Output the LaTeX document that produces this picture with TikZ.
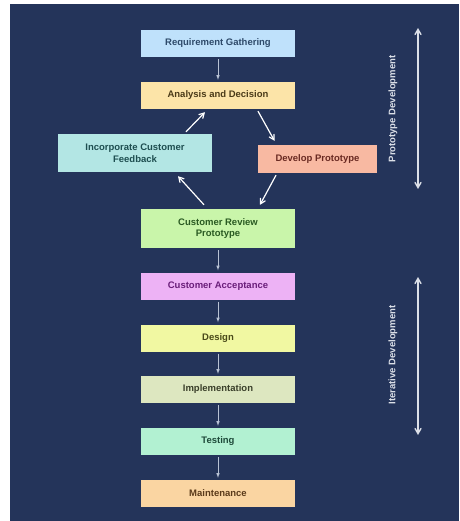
\documentclass[tikz,border=0pt]{standalone}
\usepackage{fontspec}
\setmainfont{Liberation Sans}
\usepackage{tikz}
\usetikzlibrary{arrows}

\definecolor{bgnavy}{HTML}{24345A}
\definecolor{reqfill}{HTML}{BFE1FB}\definecolor{reqtext}{HTML}{2E4A6A}
\definecolor{anafill}{HTML}{FCE4A8}\definecolor{anatext}{HTML}{4A3A18}
\definecolor{incfill}{HTML}{B3E6E4}\definecolor{inctext}{HTML}{1E4E50}
\definecolor{devfill}{HTML}{F8B9A2}\definecolor{devtext}{HTML}{6A2A22}
\definecolor{crpfill}{HTML}{C9F5AA}\definecolor{crptext}{HTML}{2A5A22}
\definecolor{accfill}{HTML}{EDB2F5}\definecolor{acctext}{HTML}{6A1E7A}
\definecolor{desfill}{HTML}{F1F8A2}\definecolor{destext}{HTML}{4A4A1A}
\definecolor{impfill}{HTML}{DDE7C0}\definecolor{imptext}{HTML}{3A3F2A}
\definecolor{tesfill}{HTML}{B2F1D2}\definecolor{testext}{HTML}{1E4A3A}
\definecolor{maifill}{HTML}{FAD5A2}\definecolor{maitext}{HTML}{5A3A1A}
\definecolor{sidegray}{HTML}{DCE0E8}
\definecolor{flowgray}{HTML}{B8C2D4}

\begin{document}
\begin{tikzpicture}[x=1pt, y=-1pt,
  stage/.style={rectangle, minimum width=154pt, minimum height=27pt, inner sep=0pt,
    align=center, font=\bfseries\fontsize{9.5}{11.5}\selectfont},
  flow/.style={-latex, color=flowgray, line width=0.6pt, shorten <=2pt, shorten >=2pt},
  loop/.style={-angle 60, color=white, line width=1.2pt},
  side/.style={angle 60-angle 60, color=sidegray, line width=1.4pt},
  sidelabel/.style={rotate=90, text=sidegray, font=\bfseries\fontsize{9.5}{11}\selectfont}]
  \fill[bgnavy] (10,4) rectangle (459,521);
  \useasboundingbox (0,0) rectangle (459,521);

  % prototype loop
  \node[stage, fill=reqfill, text=reqtext] (req) at (218,43.5) {Requirement Gathering};
  \node[stage, fill=anafill, text=anatext] (ana) at (218,95.5) {Analysis and Decision};
  \node[stage, fill=incfill, text=inctext, minimum height=38pt] (inc) at (135,153) {Incorporate Customer\\Feedback};
  \node[stage, fill=devfill, text=devtext, minimum width=119pt, minimum height=28pt] (dev) at (317.5,159) {Develop Prototype};
  \node[stage, fill=crpfill, text=crptext, minimum height=39pt] (crp) at (218,228.5) {Customer Review\\Prototype};

  % iterative part
  \node[stage, fill=accfill, text=acctext] (acc) at (218,286) {Customer Acceptance};
  \node[stage, fill=desfill, text=destext] (des) at (218,338) {Design};
  \node[stage, fill=impfill, text=imptext] (imp) at (218,389.5) {Implementation};
  \node[stage, fill=tesfill, text=testext] (tes) at (218,441.5) {Testing};
  \node[stage, fill=maifill, text=maitext] (mai) at (218,493.5) {Maintenance};

  \path[flow]
  (req) edge (ana)
  (crp) edge (acc)
  (acc) edge (des)
  (des) edge (imp)
  (imp) edge (tes)
  (tes) edge (mai);

  \draw[loop] ([xshift=40pt,yshift=-2pt]ana.south) -- ([xshift=-43pt,yshift=4pt]dev.north);
  \draw[loop] ([xshift=-41.5pt,yshift=-2pt]dev.south) -- ([xshift=42pt,yshift=4pt]crp.north);
  \draw[loop] ([xshift=-14pt,yshift=4pt]crp.north) -- ([xshift=43pt,yshift=-4pt]inc.south);
  \draw[loop] ([xshift=51pt,yshift=2pt]inc.north) -- ([xshift=-13pt,yshift=-3pt]ana.south);

  % phase markers
  \coordinate (ptop) at (418,28);
  \coordinate (pbot) at (418,189);
  \coordinate (itop) at (418,277);
  \coordinate (ibot) at (418,435);
  \draw[side] (ptop) -- (pbot);
  \draw[side] (itop) -- (ibot);
  \node[sidelabel] (plabel) at (393,109) {Prototype Development};
  \node[sidelabel] (ilabel) at (393,355) {Iterative Development};
\end{tikzpicture}
\end{document}
